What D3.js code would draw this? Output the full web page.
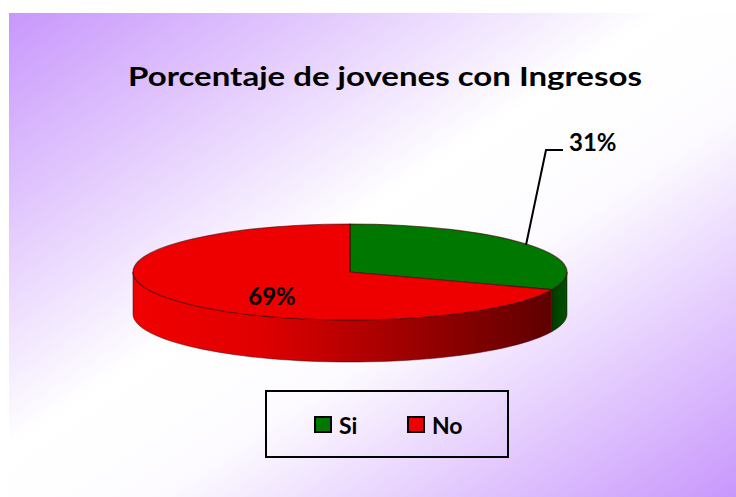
<!DOCTYPE html>
<html>
<head>
<meta charset="utf-8">
<script src="https://cdn.jsdelivr.net/npm/d3@7"></script>
<style>
  html, body { margin: 0; padding: 0; background: #fff; }
  svg { display: block; font-family: Lato, "Open Sans", sans-serif; }
</style>
</head>
<body>
<svg id="chart" width="736" height="497"></svg>
<script>
// data
const categories = ['Si', 'No'];
const values = [31, 69];
const labels = ['31%', '69%'];
const colors = ['#007800', '#ee0000'];
const title = 'Porcentaje de jovenes con Ingresos';

const svg = d3.select('#chart');
const W = 736, H = 497;

// background panel: diagonal purple -> white -> purple
const defs = svg.append('defs');
const bg = defs.append('linearGradient').attr('id', 'bg')
  .attr('x1', '0').attr('y1', '0').attr('x2', '1').attr('y2', '1');
bg.append('stop').attr('offset', '0').attr('stop-color', '#c897fc');
bg.append('stop').attr('offset', '0.45').attr('stop-color', '#ffffff');
bg.append('stop').attr('offset', '0.6').attr('stop-color', '#fdfbff');
bg.append('stop').attr('offset', '1').attr('stop-color', '#c897fc');

svg.append('rect').attr('x', 9).attr('y', 13).attr('width', W - 9).attr('height', H - 13)
  .attr('fill', 'url(#bg)');

// side gradients
const redSide = defs.append('linearGradient').attr('id', 'redSide')
  .attr('gradientUnits', 'userSpaceOnUse').attr('x1', 133).attr('x2', 552).attr('y1', 0).attr('y2', 0);
redSide.append('stop').attr('offset', '0').attr('stop-color', '#f20000');
redSide.append('stop').attr('offset', '0.3').attr('stop-color', '#e00000');
redSide.append('stop').attr('offset', '1').attr('stop-color', '#5e0000');
const greenSide = defs.append('linearGradient').attr('id', 'greenSide')
  .attr('gradientUnits', 'userSpaceOnUse').attr('x1', 550).attr('x2', 567).attr('y1', 0).attr('y2', 0);
greenSide.append('stop').attr('offset', '0').attr('stop-color', '#003a00');
greenSide.append('stop').attr('offset', '1').attr('stop-color', '#005000');
const sideFills = ['url(#greenSide)', 'url(#redSide)'];

// title
svg.append('text')
  .attr('x', 385).attr('y', 86)
  .attr('text-anchor', 'middle')
  .attr('font-size', 27).attr('font-weight', 'bold').attr('fill', '#000')
  .attr('textLength', 514).attr('lengthAdjust', 'spacingAndGlyphs')
  .text(title);

// 3D pie geometry
const cx = 350, cy = 272, rx = 217, ry = 48, depth = 42;
const pie = d3.pie().sort(null).value(d => d);
const arcsData = pie(values);

const px = a => cx + rx * Math.sin(a);
const py = a => cy - ry * Math.cos(a);

// sides: only the front half (angles between PI/2 and 3PI/2) is visible
const g = svg.append('g');
arcsData.forEach((d, i) => {
  const a0 = Math.max(d.startAngle, Math.PI / 2);
  const a1 = Math.min(d.endAngle, 3 * Math.PI / 2);
  if (a1 <= a0) return;
  const steps = d3.range(0, 61).map(k => a0 + (a1 - a0) * k / 60);
  const top = steps.map(a => [px(a), py(a)]);
  const bottom = steps.slice().reverse().map(a => [px(a), py(a) + depth]);
  g.append('path')
    .attr('d', d3.line()(top.concat(bottom)) + 'Z')
    .attr('fill', sideFills[i])
    .attr('stroke', '#400000').attr('stroke-opacity', 0.5).attr('stroke-width', 1);
});

// top face
const arc = d3.arc().innerRadius(0).outerRadius(rx);
g.append('g')
  .attr('transform', `translate(${cx},${cy}) scale(1,${ry / rx})`)
  .selectAll('path').data(arcsData).join('path')
  .attr('d', arc)
  .attr('fill', (d, i) => colors[i])
  .attr('stroke', '#3a0000').attr('stroke-opacity', 0.6)
  .attr('stroke-width', 1.2).attr('vector-effect', 'non-scaling-stroke');

// data labels
svg.append('text')
  .attr('x', 272).attr('y', 305).attr('text-anchor', 'middle')
  .attr('font-size', 24).attr('font-weight', 'bold').text(labels[1]);

svg.append('path')
  .attr('d', d3.line()([[526, 245], [546, 150], [563, 150]]))
  .attr('fill', 'none').attr('stroke', '#000').attr('stroke-width', 2);
svg.append('text')
  .attr('x', 569).attr('y', 151)
  .attr('font-size', 24).attr('font-weight', 'bold').text(labels[0]);

// legend
const lg = svg.append('g');
lg.append('rect').attr('x', 266).attr('y', 391).attr('width', 242).attr('height', 66)
  .attr('fill', 'none').attr('stroke', '#000').attr('stroke-width', 2);
const legX = [315, 408];
categories.forEach((c, i) => {
  lg.append('rect').attr('x', legX[i]).attr('y', 417).attr('width', 16).attr('height', 15)
    .attr('fill', colors[i]).attr('stroke', '#000').attr('stroke-width', 2);
  lg.append('text').attr('x', legX[i] + 24).attr('y', 434)
    .attr('font-size', 23).attr('font-weight', 'bold').text(c);
});
</script>
</body>
</html>
